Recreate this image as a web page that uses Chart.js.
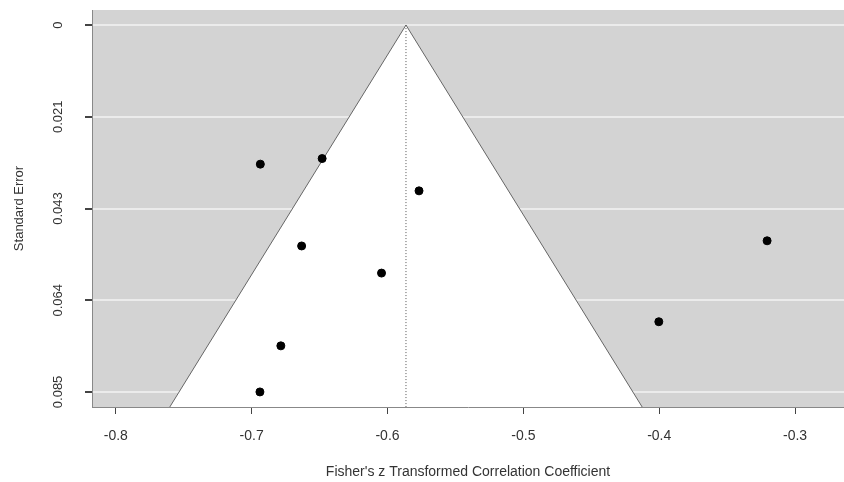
<!DOCTYPE html>
<html>
<head>
<meta charset="utf-8">
<script src="https://cdn.jsdelivr.net/npm/chart.js@4"></script>
<style>
  html, body { margin: 0; padding: 0; background: #fff; }
  #wrap { width: 844px; height: 482px; }
</style>
</head>
<body>
<div id="wrap"><canvas id="funnel"></canvas></div>
<script>
// study effects (Fisher's z) and their standard errors
const effects = [-0.6936, -0.6481, -0.5768, -0.6632, -0.6044, -0.3206, -0.4003, -0.6785, -0.6939];
const stdErrors = [0.0323, 0.0310, 0.0385, 0.0513, 0.0576, 0.0501, 0.0689, 0.0745, 0.0852];
const estimate = -0.5864;
const xTicks = [-0.8, -0.7, -0.6, -0.5, -0.4, -0.3];
const seTicks = [0, 0.0213, 0.0426, 0.0639, 0.0852];
const seLabels = ["0", "0.021", "0.043", "0.064", "0.085"];

const seMax = 0.0887;
const font = "'Liberation Sans', Arial, sans-serif";

const points = effects.map((x, i) => ({ x: x, y: stdErrors[i] }));
const funnel = [
  { x: estimate - 1.96 * seMax, y: seMax },
  { x: estimate, y: 0 },
  { x: estimate + 1.96 * seMax, y: seMax }
];
const centre = [{ x: estimate, y: 0 }, { x: estimate, y: seMax }];

const greyBg = {
  id: "greyBg",
  beforeDraw(chart) {
    const a = chart.chartArea;
    const ctx = chart.ctx;
    ctx.save();
    ctx.fillStyle = "#d3d3d3";
    ctx.fillRect(a.left, a.top, a.right - a.left, a.bottom - a.top);
    ctx.restore();
  }
};

new Chart(document.getElementById("funnel"), {
  type: "scatter",
  data: {
    datasets: [
      {
        label: "points",
        data: points,
        backgroundColor: "#000",
        borderColor: "#000",
        pointRadius: 4,
        pointHoverRadius: 4,
        order: 0
      },
      {
        label: "centre",
        type: "line",
        data: centre,
        borderColor: "#555",
        borderWidth: 1,
        borderDash: [1, 2],
        pointRadius: 0,
        fill: false,
        order: 1
      },
      {
        label: "funnel",
        type: "line",
        data: funnel,
        borderColor: "#666",
        borderWidth: 1,
        backgroundColor: "#fff",
        pointRadius: 0,
        fill: "start",
        tension: 0,
        order: 2
      }
    ]
  },
  options: {
    responsive: true,
    maintainAspectRatio: false,
    animation: false,
    layout: { autoPadding: false, padding: { top: 10, right: 0, bottom: 0, left: 0 } },
    plugins: {
      legend: { display: false },
      tooltip: { enabled: false }
    },
    scales: {
      x: {
        type: "linear",
        min: -0.8175,
        max: -0.264,
        afterBuildTicks: (s) => { s.ticks = xTicks.map(v => ({ value: v })); },
        afterFit: (s) => { s.height = 75; s.paddingLeft = 0; s.paddingRight = 0; },
        ticks: {
          color: "#333",
          font: { family: font, size: 14 },
          padding: 14,
          callback: (v) => v.toFixed(1)
        },
        grid: { drawOnChartArea: false, tickLength: 7, tickColor: "#444" },
        border: { display: true, color: "#888", width: 1 },
        title: {
          display: true,
          text: "Fisher's z Transformed Correlation Coefficient",
          color: "#333",
          font: { family: font, size: 14 },
          padding: { top: 4, bottom: 1 }
        }
      },
      y: {
        type: "linear",
        reverse: true,
        min: -0.0035,
        max: seMax,
        afterBuildTicks: (s) => { s.ticks = seTicks.map(v => ({ value: v })); },
        afterFit: (s) => { s.width = 92; s.paddingTop = 0; s.paddingBottom = 0; },
        ticks: {
          color: "#333",
          font: { family: font, size: 13 },
          minRotation: 90,
          maxRotation: 90,
          crossAlign: "center",
          padding: 10,
          callback: (v, i) => seLabels[i]
        },
        grid: { color: "#ebebeb", lineWidth: 2, tickLength: 7, tickColor: "#444" },
        border: { display: true, color: "#888", width: 1 },
        title: {
          display: true,
          text: "Standard Error",
          color: "#333",
          font: { family: font, size: 13 },
          padding: { top: 12, bottom: 4 }
        }
      }
    }
  },
  plugins: [greyBg]
});
</script>
</body>
</html>
